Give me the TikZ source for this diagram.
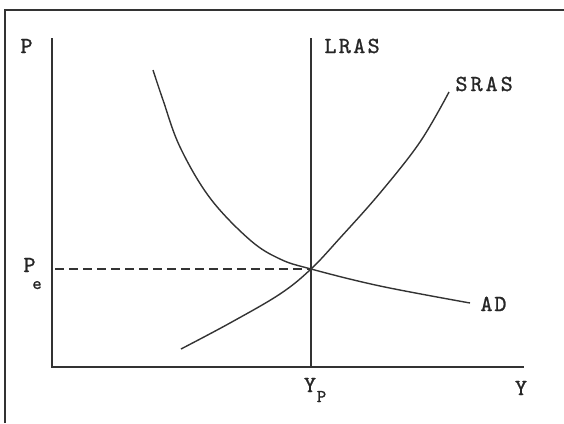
\documentclass[tikz,border=0pt]{standalone}
\usepackage{fontspec}
\newfontfamily\typefont[FakeBold=1.0]{Latin Modern Mono}
\begin{document}
\begin{tikzpicture}[x=1pt,y=-1pt,
  ln/.style={line width=1.4pt,draw=black!80},
  lbl/.style={font=\typefont\bfseries\fontsize{10}{10}\selectfont,scale=2.3,text=black!85,inner sep=0pt},
  sub/.style={font=\typefont\bfseries\fontsize{10}{10}\selectfont,scale=1.8,text=black!85,inner sep=0pt}]
\useasboundingbox (0,0) rectangle (564,423);
\draw[line width=2pt,draw=black!80] (5,423) -- (5,10) -- (564,10);
% axes
\coordinate (top) at (52,38);
\coordinate (org) at (52,367);
\coordinate (xend) at (524,367);
\draw[ln] (top) -- (org) -- (xend);
% LRAS
\coordinate (ltop) at (311,38);
\coordinate (lbot) at (311,367);
\draw[ln] (ltop) -- (lbot);
\coordinate (E) at (311,269);
\coordinate (pe) at (55,269);
\draw[ln,dashed,dash pattern=on 9pt off 5pt,line width=1.2pt] (pe) -- (E);
% AD
\draw[ln] plot[smooth,tension=0.6] coordinates {(153,70) (163,100) (180,147) (210,198) (250,240) (280,259) (311,269) (380,286) (470,303)};
% SRAS
\draw[ln] plot[smooth,tension=0.6] coordinates {(181,349) (230,323) (280,294) (311,269) (340,238) (380,193) (420,142) (449,92)};
% labels
\node[lbl,anchor=base] (P) at (26.5,53) {P};
\node[lbl,anchor=base west] (LRAS) at (324,53) {L\kern1pt R\kern1pt A\kern1pt S};
\node[lbl,anchor=base west] (SRAS) at (455,91) {S\kern1.3pt R\kern1.3pt A\kern1.3pt S};
\node[lbl,anchor=base] (Pe) at (29.5,272) {P};
\node[sub,anchor=base] (e) at (37,289) {e};
\node[lbl,anchor=base west] (AD) at (480,311) {A\kern0.8pt D};
\node[lbl,anchor=base] (Yp) at (310,392) {Y};
\node[sub,anchor=base] (p) at (321.5,402) {P};
\node[lbl,anchor=base] (Y) at (521,395) {Y};
\end{tikzpicture}
\end{document}
